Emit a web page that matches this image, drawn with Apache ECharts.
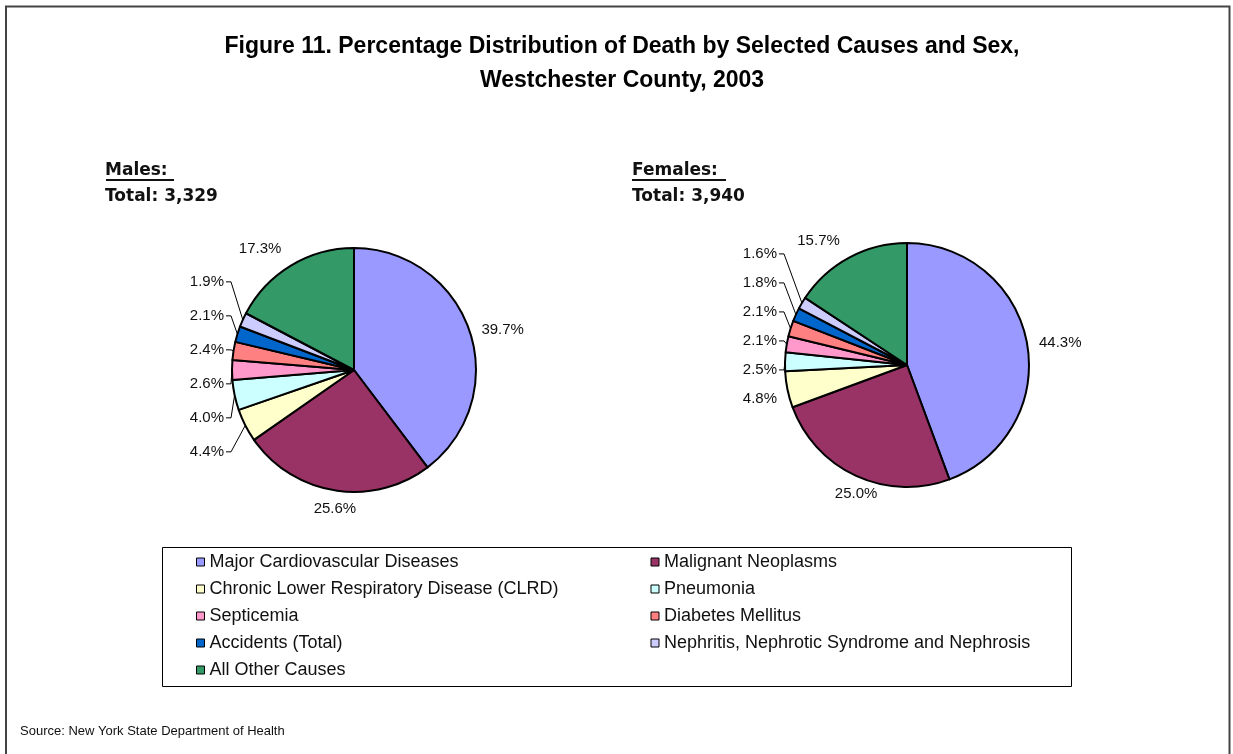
<!DOCTYPE html>
<html>
<head>
<meta charset="utf-8">
<title>Figure 11</title>
<script src="https://cdn.jsdelivr.net/npm/echarts@6/dist/echarts.min.js"></script>
<style>
  html, body { margin: 0; padding: 0; background: #fff; }
  #chart_main { width: 1233px; height: 754px; }
</style>
</head>
<body>
<div id="chart_main"></div>
<script>
  // data
  var causes = [
    'Major Cardiovascular Diseases',
    'Malignant Neoplasms',
    'Chronic Lower Respiratory Disease (CLRD)',
    'Pneumonia',
    'Septicemia',
    'Diabetes Mellitus',
    'Accidents (Total)',
    'Nephritis, Nephrotic Syndrome and Nephrosis',
    'All Other Causes'
  ];
  var malesPct = [39.7, 25.6, 4.4, 4.0, 2.6, 2.4, 2.1, 1.9, 17.3];
  var femalesPct = [44.3, 25.0, 4.8, 2.5, 2.1, 2.1, 1.8, 1.6, 15.7];
  var malesTotal = '3,329';
  var femalesTotal = '3,940';
  var causeColors = ['#9999ff', '#993366', '#ffffcc', '#ccffff', '#ff99cc', '#ff8080', '#0066cc', '#ccccff', '#339966'];

  var baseFont = '"Liberation Sans", Arial, sans-serif';
  var boldFont = '"DejaVu Sans", sans-serif';
  var pieRadius = 122;

  // big slices get their label right next to the edge, small ones get a leader line
  function pieData(values) {
    return values.map(function (v, i) {
      var item = {
        name: causes[i],
        value: v,
        itemStyle: { color: causeColors[i] }
      };
      if (v >= 10) {
        item.label = { lineHeight: 18 };
        item.labelLine = { show: false, length: 5, length2: 2 };
      } else {
        item.labelLine = { show: v < 4.5 };
      }
      return item;
    });
  }

  function pieSeries(name, center, values, lineH, rise) {
    var total = 0;
    values.forEach(function (v) { total += v; });
    // mid angle of every slice, clockwise from 12 o'clock
    var midAngles = [];
    var acc = 0;
    values.forEach(function (v) {
      midAngles.push((acc + v / 2) / total * Math.PI * 2);
      acc += v;
    });
    var leftEdge = center[0] - pieRadius;
    function edgePoint(i) {
      var a = midAngles[i];
      return [center[0] + pieRadius * Math.sin(a), center[1] - pieRadius * Math.cos(a)];
    }

    return {
      name: name,
      type: 'pie',
      center: center,
      radius: pieRadius,
      startAngle: 90,
      clockwise: true,
      animation: false,
      avoidLabelOverlap: true,
      itemStyle: { borderColor: '#000', borderWidth: 2 },
      emphasis: { disabled: true },
      label: {
        show: true,
        position: 'outside',
        color: '#111',
        fontFamily: baseFont,
        fontSize: 15,
        lineHeight: lineH,
        formatter: function (p) { return p.value.toFixed(1) + '%'; }
      },
      labelLine: {
        show: true,
        length: 12,
        length2: 10,
        smooth: false,
        lineStyle: { color: '#000', width: 1 }
      },
      // small-slice labels: stacked on the left, a bit higher, with an elbow line
      labelLayout: function (params) {
        var i = params.dataIndex;
        var r = params.labelRect;
        if (values[i] < 10) {
          var y = r.y + r.height / 2 - rise;
          var x = leftEdge - 8;
          return {
            x: x,
            y: y,
            align: 'right',
            verticalAlign: 'middle',
            labelLinePoints: [edgePoint(i), [x + 7, y], [x + 2, y]]
          };
        }
        if (i === 1) {
          var pb = edgePoint(i);
          return { x: pb[0], y: pb[1] + 18, align: 'center', verticalAlign: 'middle' };
        }
        if (i === values.length - 1) {
          return { dy: -12 };
        }
        return {};
      },
      data: pieData(values)
    };
  }

  var myChart = echarts.init(document.getElementById('chart_main'));
  var option = {
    backgroundColor: '#fff',
    title: [
      {
        text: 'Figure 11. Percentage Distribution of Death by Selected Causes and Sex,\nWestchester County, 2003',
        left: 617,
        top: 25,
        textAlign: 'center',
        textStyle: { fontFamily: baseFont, fontSize: 23, fontWeight: 'bold', color: '#000', lineHeight: 34 }
      },
      {
        text: 'Males:\nTotal: ' + malesTotal,
        left: 105,
        top: 158,
        padding: 0,
        textStyle: { fontFamily: boldFont, fontSize: 17, fontWeight: 'bold', color: '#111', lineHeight: 26 }
      },
      {
        text: 'Females:\nTotal: ' + femalesTotal,
        left: 632,
        top: 158,
        padding: 0,
        textStyle: { fontFamily: boldFont, fontSize: 17, fontWeight: 'bold', color: '#111', lineHeight: 26 }
      }
    ],
    legend: {
      data: causes,
      left: 196,
      top: 553,
      width: 900,
      orient: 'horizontal',
      icon: 'rect',
      itemWidth: 8,
      itemHeight: 8,
      itemGap: 9,
      padding: 0,
      selectedMode: false,
      itemStyle: { borderColor: '#000', borderWidth: 1 },
      textStyle: { fontFamily: baseFont, fontSize: 18, color: '#111', width: 432, lineHeight: 17, overflow: 'none' }
    },
    graphic: [
      {
        type: 'rect',
        shape: { x: 6, y: 6.5, width: 1223.5, height: 760 },
        style: { fill: 'none', stroke: '#444', lineWidth: 2 },
        silent: true
      },
      {
        type: 'rect',
        shape: { x: 162.5, y: 547.5, width: 909, height: 139 },
        style: { fill: 'none', stroke: '#000', lineWidth: 1 },
        silent: true
      },
      {
        type: 'line',
        shape: { x1: 106, y1: 180, x2: 174, y2: 180 },
        style: { stroke: '#111', lineWidth: 2 },
        silent: true
      },
      {
        type: 'line',
        shape: { x1: 632, y1: 180, x2: 726, y2: 180 },
        style: { stroke: '#111', lineWidth: 2 },
        silent: true
      },
      {
        type: 'text',
        left: 20,
        top: 725,
        style: { text: 'Source: New York State Department of Health', fontFamily: baseFont, fontSize: 13, fill: '#111' },
        silent: true
      }
    ],
    series: [
      pieSeries('Males', [354, 370], malesPct, 32, 33),
      pieSeries('Females', [907, 365], femalesPct, 27, 43)
    ]
  };
  myChart.setOption(option);
  window.addEventListener('resize', function () { myChart.resize(); });
</script>
</body>
</html>
